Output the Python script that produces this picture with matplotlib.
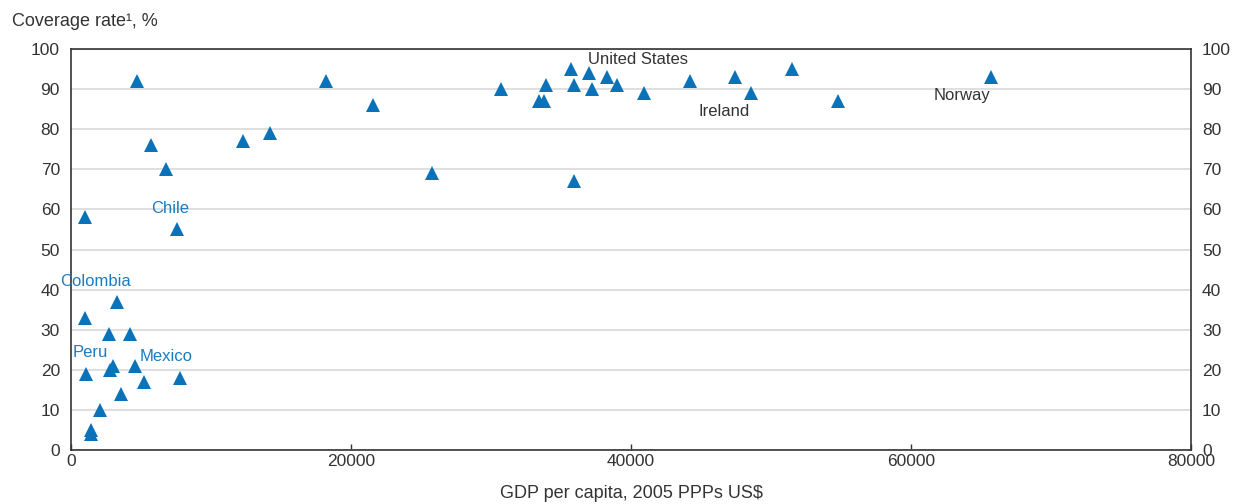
import matplotlib
matplotlib.use("Agg")
import matplotlib.pyplot as plt

gdp = [4700, 18200, 5700, 6750, 12300, 14200, 21600, 25800, 1000, 7600,
       1000, 3300, 2700, 4200, 1100, 3000, 2800, 4600, 5200, 7800, 3600, 2100, 1400, 1400,
       30700, 33900, 33400, 33800, 35700, 35900, 37000, 37200, 38300, 39000, 40900,
       44200, 47400, 48600, 35900, 51500, 54800, 65700]
coverage = [92, 92, 76, 70, 77, 79, 86, 69, 58, 55,
            33, 37, 29, 29, 19, 21, 20, 21, 17, 18, 14, 10, 5, 4,
            90, 91, 87, 87, 95, 91, 94, 90, 93, 91, 89,
            92, 93, 89, 67, 95, 87, 93]

labels = ["United States", "Ireland", "Norway", "Chile", "Colombia", "Peru", "Mexico"]
label_x = [36900, 44800, 61600, 5700, -800, 100, 4900]
label_y = [97.5, 84.5, 88.3, 60.1, 42.1, 24.2, 23.4]
label_blue = [False, False, False, True, True, True, True]

xticks = [0, 20000, 40000, 60000, 80000]
yticks = [0, 10, 20, 30, 40, 50, 60, 70, 80, 90, 100]

plt.rcParams['font.family'] = ['Liberation Sans', 'DejaVu Sans']
BLUE = '#0a72b8'
TXT = '#333333'
LBLUE = '#1a7cc0'

fig = plt.figure(figsize=(12.34, 5.04), dpi=100)
ax = fig.add_axes([71 / 1234, 1 - 450 / 504, (1191 - 71) / 1234, (450 - 49) / 504])

ax.set_xlim(0, 80000)
ax.set_ylim(0, 100)
ax.set_xticks(xticks)
ax.set_xticklabels([str(v) for v in xticks])
ax.set_yticks(yticks)
ax.grid(axis='y', color='#d9d9d9', linewidth=1.2, zorder=0)
ax.set_axisbelow(True)

ax.plot(gdp, coverage, linestyle='none', marker='^', markersize=10.5,
        color=BLUE, markeredgewidth=0, zorder=3, clip_on=False)

for t, x, y, b in zip(labels, label_x, label_y, label_blue):
    ax.text(x, y, t, fontsize=12, color=LBLUE if b else TXT, ha='left', va='center', zorder=4)

for s in ax.spines.values():
    s.set_color('#333333')
    s.set_linewidth(1.2)

ax.tick_params(axis='x', direction='in', length=4, width=1, color='#333333',
               labelsize=12.5, labelcolor=TXT, pad=3)
ax.tick_params(axis='y', length=0, labelsize=12.5, labelcolor=TXT, pad=8,
               left=True, right=True, labelleft=True, labelright=True)

fig.text(12 / 1234, 1 - 22 / 504, "Coverage rate¹, %", fontsize=13, color=TXT, ha='left', va='center')
fig.text(631 / 1234, 1 - 494 / 504, "GDP per capita, 2005 PPPs US$", fontsize=13, color=TXT,
         ha='center', va='center')

fig.savefig("out.png", dpi=100)
